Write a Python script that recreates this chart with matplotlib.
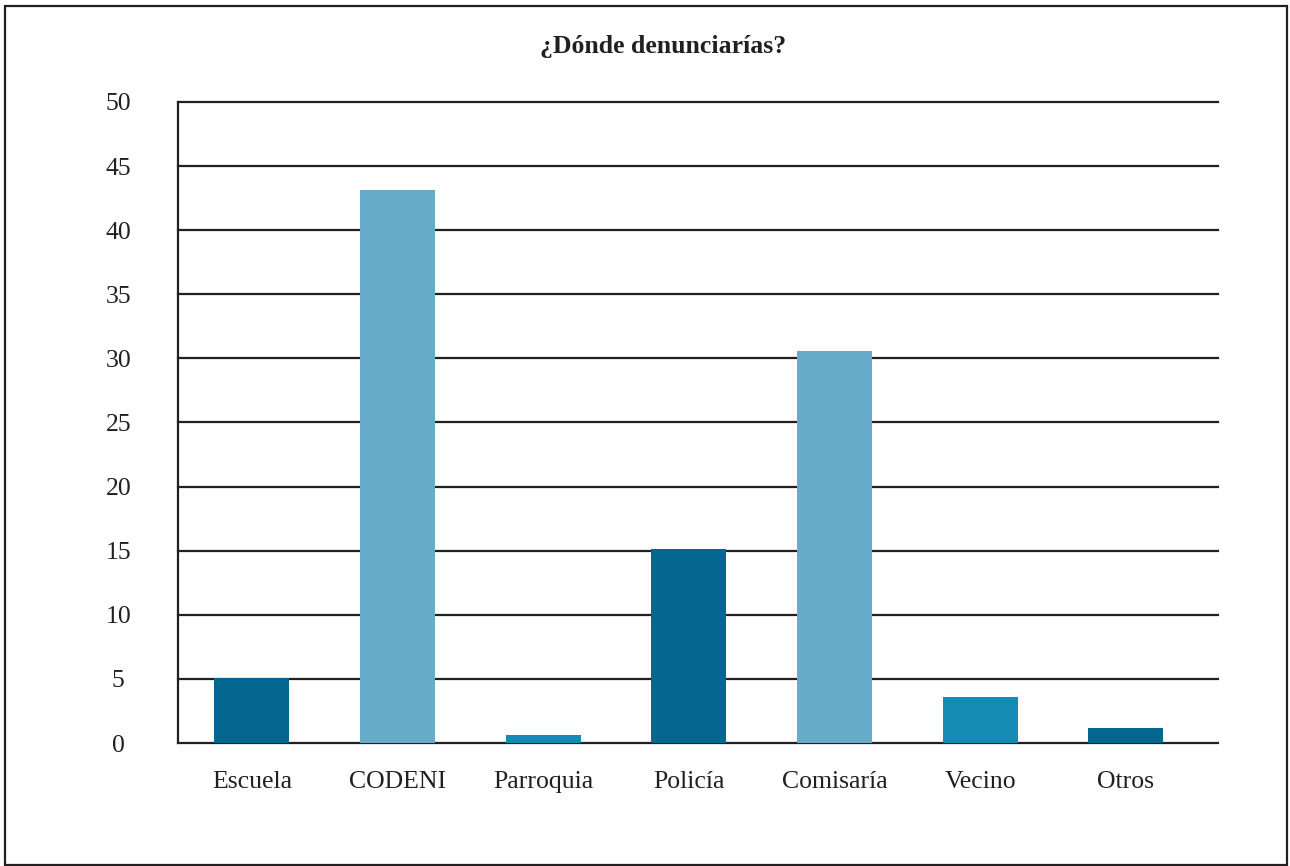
import matplotlib
matplotlib.use("Agg")
import matplotlib.pyplot as plt
from matplotlib.patches import Rectangle

categories = ["Escuela", "CODENI", "Parroquia", "Policía", "Comisaría", "Vecino", "Otros"]
values = [5.1, 43.1, 0.6, 15.1, 30.6, 3.6, 1.2]
colors = ["#03678f", "#67abca", "#138bb4", "#03678f", "#67abca", "#138bb4", "#03678f"]
yticks = [0, 5, 10, 15, 20, 25, 30, 35, 40, 45, 50]
title = "¿Dónde denunciarías?"

plt.rcParams['font.family'] = ['Liberation Serif', 'DejaVu Serif']

W, H = 1290, 866
fig = plt.figure(figsize=(W/100, H/100), dpi=100)
ax = fig.add_axes([178/W, 1-743/H, (1218-178)/W, (743-102)/H])

x = range(len(categories))
ax.bar(x, values, width=0.515, color=colors, zorder=3)
ax.set_xlim(-0.507, 6.633)
ax.set_ylim(0, 50)
ax.set_yticks(yticks)
ax.set_yticklabels([str(t) for t in yticks], fontsize=18.5, color="#231f20", ha="center")
ax.set_xticks(list(x))
ax.set_xticklabels(categories, fontsize=18.5, color="#231f20")
ax.tick_params(axis='y', length=0, pad=43)
ax.tick_params(axis='x', length=0, pad=20)
for t in yticks:
    ax.axhline(t, color="#231f20", lw=1.6, zorder=2, clip_on=False)
for s in ["top", "right"]:
    ax.spines[s].set_visible(False)
ax.spines["bottom"].set_visible(False)
ax.spines["left"].set_color("#231f20")
ax.spines["left"].set_linewidth(1.6)

fig.text(663/W, 1-47/H, title, ha="center", va="center", fontsize=18.5, fontweight="bold", color="#231f20")
fig.patches.append(Rectangle((5/W, 1-865/H), (1287-5)/W, (865-6)/H, transform=fig.transFigure,
                             fill=False, edgecolor="#231f20", lw=1.6))
fig.savefig("out.png", dpi=100, facecolor="white")
